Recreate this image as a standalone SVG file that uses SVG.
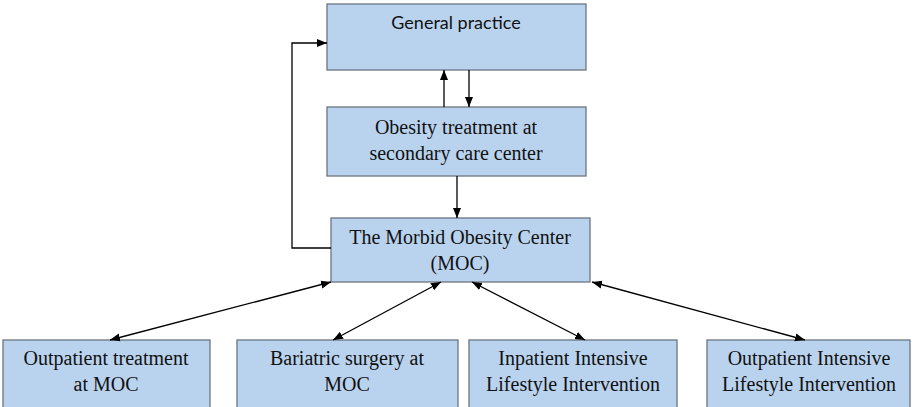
<svg xmlns="http://www.w3.org/2000/svg" width="915" height="407" viewBox="0 0 915 407">
<style>
.box{fill:#b9d3ee;stroke:#6b7580;stroke-width:1.3}
.t{font-family:"Liberation Serif","Times New Roman","DejaVu Serif",serif;font-size:20px;fill:#111;text-anchor:middle}
.s{font-family:Lato,"Liberation Sans",sans-serif;font-size:18px;fill:#111;text-anchor:middle}
.c{stroke:#000;stroke-width:1.3;fill:none}
</style>
<defs>
<marker id="ah" viewBox="0 0 10 10" refX="10" refY="5" markerWidth="10" markerHeight="10" markerUnits="userSpaceOnUse" orient="auto-start-reverse">
<path d="M0,1 L10,5 L0,9 Z" fill="#000"/>
</marker>
</defs>
<rect width="915" height="407" fill="#fff"/>
<g id="gp"><rect class="box" x="327" y="4" width="259" height="66"/><text class="s" x="456" y="29">General practice</text></g>
<g id="sec"><rect class="box" x="327" y="107" width="259" height="69"/><text class="t" x="456" y="134">Obesity treatment at</text><text class="t" x="456" y="160">secondary care center</text></g>
<g id="moc"><rect class="box" x="331" y="218" width="259" height="64"/><text class="t" x="460" y="244">The Morbid Obesity Center</text><text class="t" x="460" y="270">(MOC)</text></g>
<g id="out"><rect class="box" x="3" y="340" width="207" height="70"/><text class="t" x="106" y="365">Outpatient treatment</text><text class="t" x="106" y="391">at MOC</text></g>
<g id="bar"><rect class="box" x="237" y="340" width="221" height="70"/><text class="t" x="347" y="365">Bariatric surgery at</text><text class="t" x="347" y="391">MOC</text></g>
<g id="inp"><rect class="box" x="469" y="340" width="208" height="70"/><text class="t" x="573" y="365">Inpatient Intensive</text><text class="t" x="573" y="391">Lifestyle Intervention</text></g>
<g id="outi"><rect class="box" x="707" y="340" width="203" height="70"/><text class="t" x="809" y="365">Outpatient Intensive</text><text class="t" x="809" y="391">Lifestyle Intervention</text></g>
<g id="connectors">
<path class="c" d="M331,248 H292 V43 H327" marker-end="url(#ah)"/>
<line class="c" x1="444" y1="107" x2="444" y2="70" marker-end="url(#ah)"/>
<line class="c" x1="469" y1="70" x2="469" y2="107" marker-end="url(#ah)"/>
<line class="c" x1="457" y1="176" x2="457" y2="218" marker-end="url(#ah)"/>
<line class="c" x1="110" y1="340" x2="331" y2="282" marker-start="url(#ah)" marker-end="url(#ah)"/>
<line class="c" x1="333" y1="340" x2="441" y2="282" marker-start="url(#ah)" marker-end="url(#ah)"/>
<line class="c" x1="585" y1="340" x2="472" y2="282" marker-start="url(#ah)" marker-end="url(#ah)"/>
<line class="c" x1="805" y1="340" x2="592" y2="282" marker-start="url(#ah)" marker-end="url(#ah)"/>
</g>
</svg>
